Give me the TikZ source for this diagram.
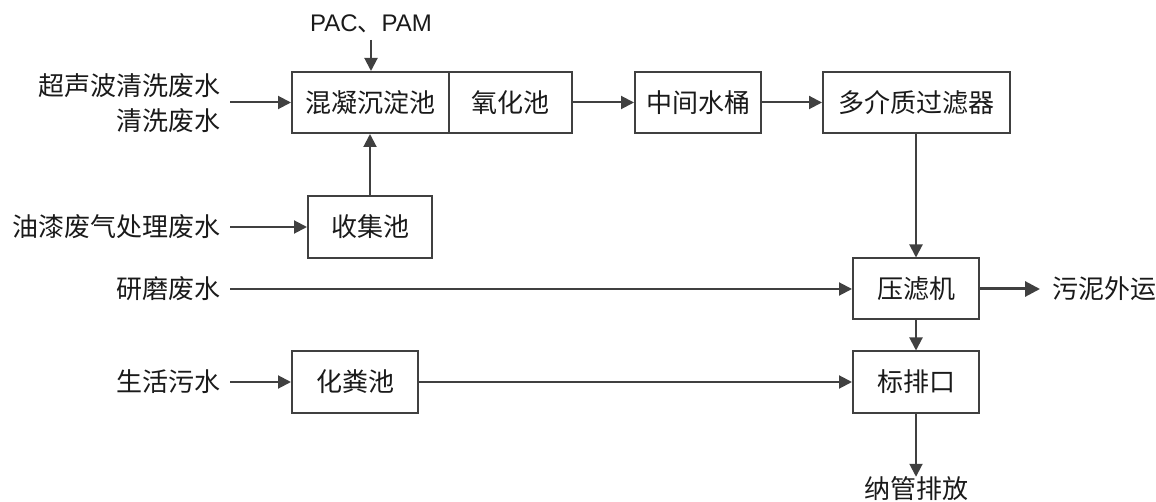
\documentclass[tikz,border=0pt]{standalone}
\usepackage{fontspec}
\setmainfont{Liberation Sans}
\newfontfamily\cjk{Noto Sans CJK SC}
\usetikzlibrary{arrows.meta}
\definecolor{ln}{HTML}{404040}
\definecolor{tx}{HTML}{1A1A1A}
\begin{document}
\begin{tikzpicture}[x=1pt,y=-1pt,
  box/.style={draw=ln, line width=2pt, minimum height=61pt, inner sep=0pt,
    font=\cjk\fontsize{26}{35}\selectfont, text=tx},
  lbl/.style={inner sep=0pt, font=\cjk\fontsize{26}{35}\selectfont, text=tx},
  flow/.style={draw=ln, line width=2pt, -{Triangle[length=13pt,width=13pt]}},
  thickflow/.style={draw=ln, line width=3pt, -{Triangle[length=15pt,width=15pt]}}]
\useasboundingbox (0,0) rectangle (1156,502);
% process boxes
\node[box, minimum width=157pt] (hn) at (370.5,102.5) {混凝沉淀池};
\node[box, minimum width=123pt] (yh) at (510.5,102.5) {氧化池};
\node[box, minimum width=126pt] (zj) at (698,102.5) {中间水桶};
\node[box, minimum width=187pt] (dj) at (916.5,102.5) {多介质过滤器};
\node[box, minimum width=124pt, minimum height=62pt] (sj) at (370,227) {收集池};
\node[box, minimum width=126pt] (yl) at (916,289) {压滤机};
\node[box, minimum width=126pt] (bp) at (916,382) {标排口};
\node[box, minimum width=126pt] (hf) at (355,382) {化粪池};
% labels
\node[inner sep=0pt, font=\fontsize{24}{28}\selectfont, text=tx] (pac) at (371,24) {PAC{\cjk 、}PAM};
\node[lbl, anchor=east, align=right] (cs) at (221,103.5) {超声波清洗废水\\清洗废水};
\node[lbl, anchor=east] (yq) at (221,227) {油漆废气处理废水};
\node[lbl, anchor=east] (ym) at (221,289) {研磨废水};
\node[lbl, anchor=east] (sh) at (221,382) {生活污水};
\node[lbl, anchor=west] (wn) at (1052,289) {污泥外运};
\node[lbl] (ng) at (916,489) {纳管排放};
% helper coordinates
\coordinate (pacA) at (371,40);
\coordinate (csA) at ([xshift=9pt]cs.east);
% connectors
\draw[flow] (pacA) -- (pacA |- hn.north);
\draw[flow] (csA |- hn.west) -- (hn.west);
\draw[flow] (sj.north) -- (sj.north |- hn.south);
\draw[flow] ([xshift=9pt]yq.east) -- (sj.west);
\draw[flow] ([xshift=9pt]ym.east) -- (yl.west);
\draw[flow] ([xshift=9pt]sh.east) -- (hf.west);
\draw[flow] (hf.east) -- (bp.west);
\draw[flow] (yh.east) -- (zj.west);
\draw[flow] (zj.east) -- (dj.west);
\draw[flow] (yl.north |- dj.south) -- (yl.north);
\draw[flow] (yl.south) -- (bp.north);
\draw[thickflow] (yl.east) -- ([xshift=-12pt]wn.west);
\draw[flow] (bp.south) -- (ng.north);
\end{tikzpicture}
\end{document}
